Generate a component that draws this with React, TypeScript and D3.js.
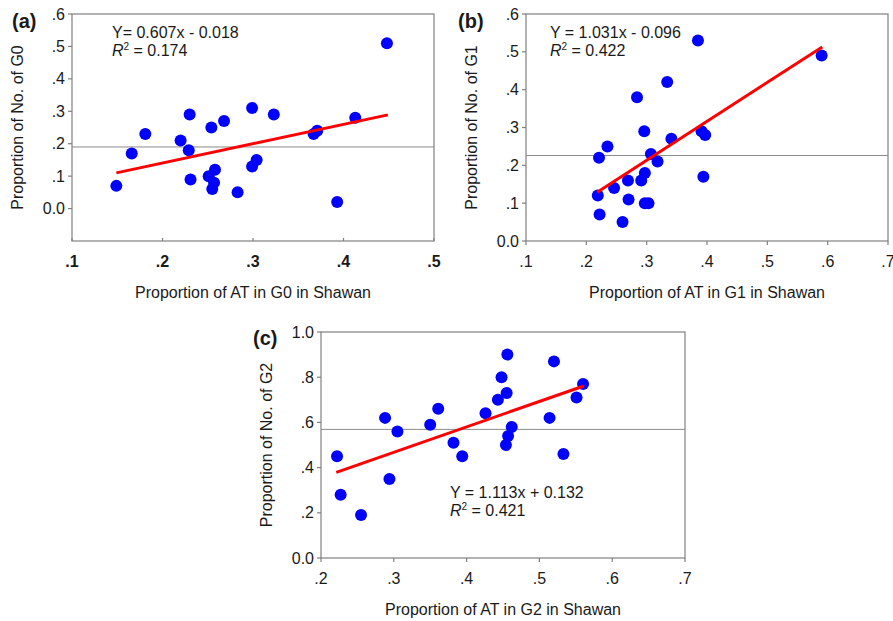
import React from "react";
import * as d3 from "d3";

// panel (a): G0
const xG0 = [0.149, 0.166, 0.181, 0.220, 0.230, 0.229, 0.231, 0.251, 0.254, 0.258, 0.257, 0.255, 0.268, 0.283, 0.299, 0.299, 0.304, 0.323, 0.367, 0.371, 0.393, 0.413, 0.448];
const yG0 = [0.07, 0.17, 0.23, 0.21, 0.29, 0.18, 0.09, 0.10, 0.25, 0.12, 0.08, 0.06, 0.27, 0.05, 0.31, 0.13, 0.15, 0.29, 0.23, 0.24, 0.02, 0.28, 0.51];
const fitG0 = [[0.149, 0.110], [0.449, 0.289]];
const meanG0 = 0.19;

// panel (b): G1
const xG1 = [0.219, 0.222, 0.221, 0.235, 0.246, 0.260, 0.269, 0.270, 0.284, 0.291, 0.296, 0.297, 0.297, 0.303, 0.307, 0.318, 0.334, 0.341, 0.385, 0.391, 0.397, 0.394, 0.590];
const yG1 = [0.12, 0.07, 0.22, 0.25, 0.14, 0.05, 0.16, 0.11, 0.38, 0.16, 0.29, 0.18, 0.10, 0.10, 0.23, 0.21, 0.42, 0.27, 0.53, 0.29, 0.28, 0.17, 0.49];
const fitG1 = [[0.218, 0.129], [0.591, 0.513]];
const meanG1 = 0.226;

// panel (c): G2
const xG2 = [0.222, 0.227, 0.255, 0.288, 0.294, 0.305, 0.350, 0.361, 0.382, 0.394, 0.426, 0.443, 0.448, 0.455, 0.456, 0.454, 0.457, 0.462, 0.514, 0.520, 0.533, 0.551, 0.560];
const yG2 = [0.45, 0.28, 0.19, 0.62, 0.35, 0.56, 0.59, 0.66, 0.51, 0.45, 0.64, 0.70, 0.80, 0.73, 0.90, 0.50, 0.54, 0.58, 0.62, 0.87, 0.46, 0.71, 0.77];
const fitG2 = [[0.221, 0.379], [0.561, 0.761]];
const meanG2 = 0.569;

const ticksX05 = [0.1, 0.2, 0.3, 0.4, 0.5];
const ticksX17 = [0.1, 0.2, 0.3, 0.4, 0.5, 0.6, 0.7];
const ticksX27 = [0.2, 0.3, 0.4, 0.5, 0.6, 0.7];
const ticksY06 = [0, 0.1, 0.2, 0.3, 0.4, 0.5, 0.6];
const ticksY10 = [0, 0.2, 0.4, 0.6, 0.8, 1.0];

const FONT = "Arial, 'Liberation Sans', Helvetica, sans-serif";

function fmt(v) {
  if (Math.abs(v) < 1e-9) return "0.0";
  if (Math.abs(v - 1) < 1e-9) return "1.0";
  return d3.format(".1f")(v).replace(/^0/, "");
}

function Panel(props) {
  const { box, xDomain, yDomain, xTicks, yTicks, xs, ys, fit, mean, tag, eq, r2, eqPos,
    yTitle, xTitle, boldX, tickIn } = props;
  const x = d3.scaleLinear().domain(xDomain).range([box.left, box.right]);
  const y = d3.scaleLinear().domain(yDomain).range([box.bottom, box.top]);
  const line = d3.line().x(d => x(d[0])).y(d => y(d[1]));
  const axisColor = "#808080";
  const cy = (box.top + box.bottom) / 2;
  const cx = (box.left + box.right) / 2;

  return (
    <g fontFamily={FONT}>
      <rect x={box.left} y={box.top} width={box.right - box.left} height={box.bottom - box.top}
        fill="none" stroke={axisColor} strokeWidth={1.2} />
      <line x1={box.left} x2={box.right} y1={y(mean)} y2={y(mean)} stroke="#8c8c8c" strokeWidth={1} />
      {yTicks.map(t => (
        <g key={"y" + t}>
          <line x1={box.left - 4} x2={box.left} y1={y(t)} y2={y(t)} stroke={axisColor} strokeWidth={1.2} />
          <text x={box.left - 7} y={y(t)} dy="0.35em" textAnchor="end" fontSize={16} fill="#1a1a1a">{fmt(t)}</text>
        </g>
      ))}
      {xTicks.map(t => (
        <g key={"x" + t}>
          <line x1={x(t)} x2={x(t)} y1={box.bottom} y2={tickIn ? box.bottom - 3 : box.bottom + 4} stroke={axisColor} strokeWidth={1.2} />
          <text x={x(t)} y={box.bottom + 26} textAnchor="middle" fontSize={16}
            fontWeight={boldX ? "bold" : "normal"} fill="#1a1a1a">{fmt(t)}</text>
        </g>
      ))}
      {xs.map((v, i) => (
        <circle key={i} cx={x(v)} cy={y(ys[i])} r={6} fill="#0000ff" />
      ))}
      <path d={line(fit)} stroke="#ff0000" strokeWidth={3} fill="none" />
      <text x={tag[0]} y={tag[1]} fontSize={20} fontWeight="bold" fill="#1a1a1a">{tag[2]}</text>
      <text x={eqPos[0]} y={eqPos[1]} fontSize={16} fill="#1a1a1a">{eq}</text>
      <text x={eqPos[0]} y={eqPos[1] + 18} fontSize={16} fill="#1a1a1a">
        <tspan fontStyle="italic">R</tspan>
        <tspan fontSize={10} dy={-6}>2</tspan>
        <tspan dy={6}>{" = " + r2}</tspan>
      </text>
      <text transform={`translate(${box.left - 55},${cy}) rotate(-90)`} textAnchor="middle" dy="0.35em"
        fontSize={16} fill="#1a1a1a">{yTitle}</text>
      <text x={cx} y={box.bottom + 57} textAnchor="middle" fontSize={16} fill="#1a1a1a">{xTitle}</text>
    </g>
  );
}

export default function App() {
  return (
    <svg width={893} height={621} style={{ position: "absolute", left: 0, top: 0, background: "#fff" }}>
      <rect width={893} height={621} fill="#fff" />
      <Panel box={{ left: 72, right: 434, top: 14, bottom: 241 }}
        xDomain={[0.1, 0.5]} yDomain={[-0.1, 0.6]} xTicks={ticksX05} yTicks={ticksY06}
        xs={xG0} ys={yG0} fit={fitG0} mean={meanG0}
        tag={[12, 28, "(a)"]} eq="Y= 0.607x - 0.018" r2="0.174" eqPos={[112, 38]}
        yTitle="Proportion of No. of G0" xTitle="Proportion of AT in G0 in Shawan"
        boldX={true} tickIn={true} />
      <Panel box={{ left: 526, right: 888, top: 14, bottom: 241 }}
        xDomain={[0.1, 0.7]} yDomain={[0, 0.6]} xTicks={ticksX17} yTicks={ticksY06}
        xs={xG1} ys={yG1} fit={fitG1} mean={meanG1}
        tag={[458, 28, "(b)"]} eq="Y = 1.031x - 0.096" r2="0.422" eqPos={[550, 38]}
        yTitle="Proportion of No. of G1" xTitle="Proportion of AT in G1 in Shawan"
        boldX={false} tickIn={false} />
      <Panel box={{ left: 321, right: 685, top: 332, bottom: 558 }}
        xDomain={[0.2, 0.7]} yDomain={[0, 1.0]} xTicks={ticksX27} yTicks={ticksY10}
        xs={xG2} ys={yG2} fit={fitG2} mean={meanG2}
        tag={[253, 345, "(c)"]} eq="Y = 1.113x + 0.132" r2="0.421" eqPos={[450, 498]}
        yTitle="Proportion of No. of G2" xTitle="Proportion of AT in G2 in Shawan"
        boldX={false} tickIn={false} />
    </svg>
  );
}
